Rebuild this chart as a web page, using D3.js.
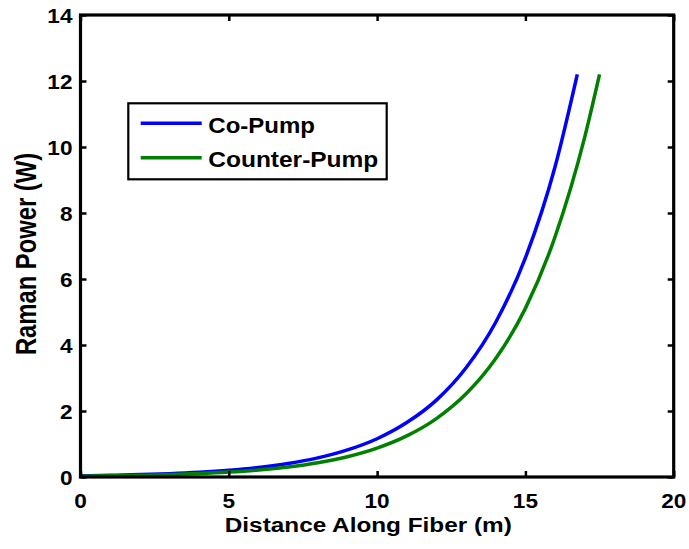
<!DOCTYPE html>
<html>
<head>
<meta charset="utf-8">
<script src="https://cdn.jsdelivr.net/npm/d3@7"></script>
<style>
  html, body { margin: 0; padding: 0; background: #fff; }
  text { font-family: "Liberation Sans", Arial, Helvetica, sans-serif; font-weight: bold; fill: #000; }
</style>
</head>
<body>
<svg id="chart" width="689" height="549"></svg>
<script>
// ---- data ----
const coPumpX = [0, 1, 2, 3, 4, 5, 6, 7, 8, 9, 10, 11, 12, 13, 14, 15, 16, 16.75];
const coPumpY = [0.036, 0.051, 0.072, 0.102, 0.145, 0.205, 0.29, 0.41, 0.58, 0.82, 1.16, 1.65, 2.33, 3.31, 4.69, 6.64, 9.40, 12.2];
const counterPumpX = [0, 1, 2, 3, 4, 5, 6, 7, 8, 9, 10, 11, 12, 13, 14, 15, 16, 17, 17.5];
const counterPumpY = [0.026, 0.036, 0.052, 0.074, 0.105, 0.150, 0.213, 0.303, 0.432, 0.615, 0.875, 1.245, 1.77, 2.52, 3.59, 5.11, 7.28, 10.3, 12.2];
const xTicks = [0, 5, 10, 15, 20];
const yTicks = [0, 2, 4, 6, 8, 10, 12, 14];
const seriesNames = ["Co-Pump", "Counter-Pump"];
const seriesColors = ["#0000ff", "#007f00"];
const xLabel = "Distance Along Fiber (m)";
const yLabel = "Raman Power (W)";

// ---- layout ----
const L = 80.5, R = 673.7, T = 15, B = 477;
const svg = d3.select("#chart");
const x = d3.scaleLinear().domain([0, 20]).range([L, R]);
const y = d3.scaleLinear().domain([0, 14]).range([B, T]);

const series = [
  coPumpX.map((v, i) => [v, coPumpY[i]]),
  counterPumpX.map((v, i) => [v, counterPumpY[i]])
];

const line = d3.line().x(d => x(d[0])).y(d => y(d[1])).curve(d3.curveMonotoneX);

series.forEach((s, i) => {
  svg.append("path").datum(s)
    .attr("d", line)
    .attr("fill", "none")
    .attr("stroke", seriesColors[i])
    .attr("stroke-width", 3.5)
    .attr("stroke-linejoin", "round");
});

// ---- axes (ticks inward on all four sides) ----
const tickLen = 6;
const gB = svg.append("g").attr("transform", `translate(0,${B})`)
  .call(d3.axisBottom(x).tickValues(xTicks).tickSize(-tickLen).tickFormat(""));
const gT = svg.append("g").attr("transform", `translate(0,${T})`)
  .call(d3.axisTop(x).tickValues(xTicks).tickSize(-tickLen).tickFormat(""));
const gL = svg.append("g").attr("transform", `translate(${L},0)`)
  .call(d3.axisLeft(y).tickValues(yTicks).tickSize(-tickLen).tickFormat(""));
const gR = svg.append("g").attr("transform", `translate(${R},0)`)
  .call(d3.axisRight(y).tickValues(yTicks).tickSize(-tickLen).tickFormat(""));
[gB, gT, gL, gR].forEach(g => {
  g.select(".domain").remove();
  g.selectAll(".tick line").attr("stroke", "#000").attr("stroke-width", 2.5);
});

svg.append("rect")
  .attr("x", L).attr("y", T).attr("width", R - L).attr("height", B - T)
  .attr("fill", "none").attr("stroke", "#000").attr("stroke-width", 3.2);

// tick labels
const tickFont = 20, stretch = 1.13;
xTicks.forEach(t => {
  svg.append("text")
    .attr("transform", `translate(${x(t)},${B + 31}) scale(${stretch},1)`)
    .attr("text-anchor", "middle")
    .style("font-size", tickFont + "px")
    .text(t);
});
yTicks.forEach(t => {
  svg.append("text")
    .attr("transform", `translate(${L - 8},${y(t) + 7.5}) scale(${stretch},1)`)
    .attr("text-anchor", "end")
    .style("font-size", tickFont + "px")
    .text(t);
});

// axis titles
svg.append("text")
  .attr("x", 368.3).attr("y", 532)
  .attr("text-anchor", "middle")
  .attr("textLength", 287).attr("lengthAdjust", "spacingAndGlyphs")
  .style("font-size", "20.3px")
  .text(xLabel);

svg.append("text")
  .attr("transform", `translate(36,254) scale(1.2,1) rotate(-90)`)
  .attr("text-anchor", "middle")
  .style("font-size", "23.8px")
  .text(yLabel);

// ---- legend ----
const lg = svg.append("g");
lg.append("rect")
  .attr("x", 128.3).attr("y", 103.3).attr("width", 258.4).attr("height", 76)
  .attr("fill", "#fff").attr("stroke", "#000").attr("stroke-width", 2.2);
const legendRows = [{ ly: 123.3, by: 133.3, w: 106.7 }, { ly: 157.7, by: 167.3, w: 170 }];
seriesNames.forEach((name, i) => {
  const r = legendRows[i];
  lg.append("line")
    .attr("x1", 140.7).attr("x2", 201.7).attr("y1", r.ly).attr("y2", r.ly)
    .attr("stroke", seriesColors[i]).attr("stroke-width", 3.5);
  lg.append("text")
    .attr("x", 208.3).attr("y", r.by)
    .attr("textLength", r.w).attr("lengthAdjust", "spacingAndGlyphs")
    .style("font-size", "22px")
    .text(name);
});
</script>
</body>
</html>
